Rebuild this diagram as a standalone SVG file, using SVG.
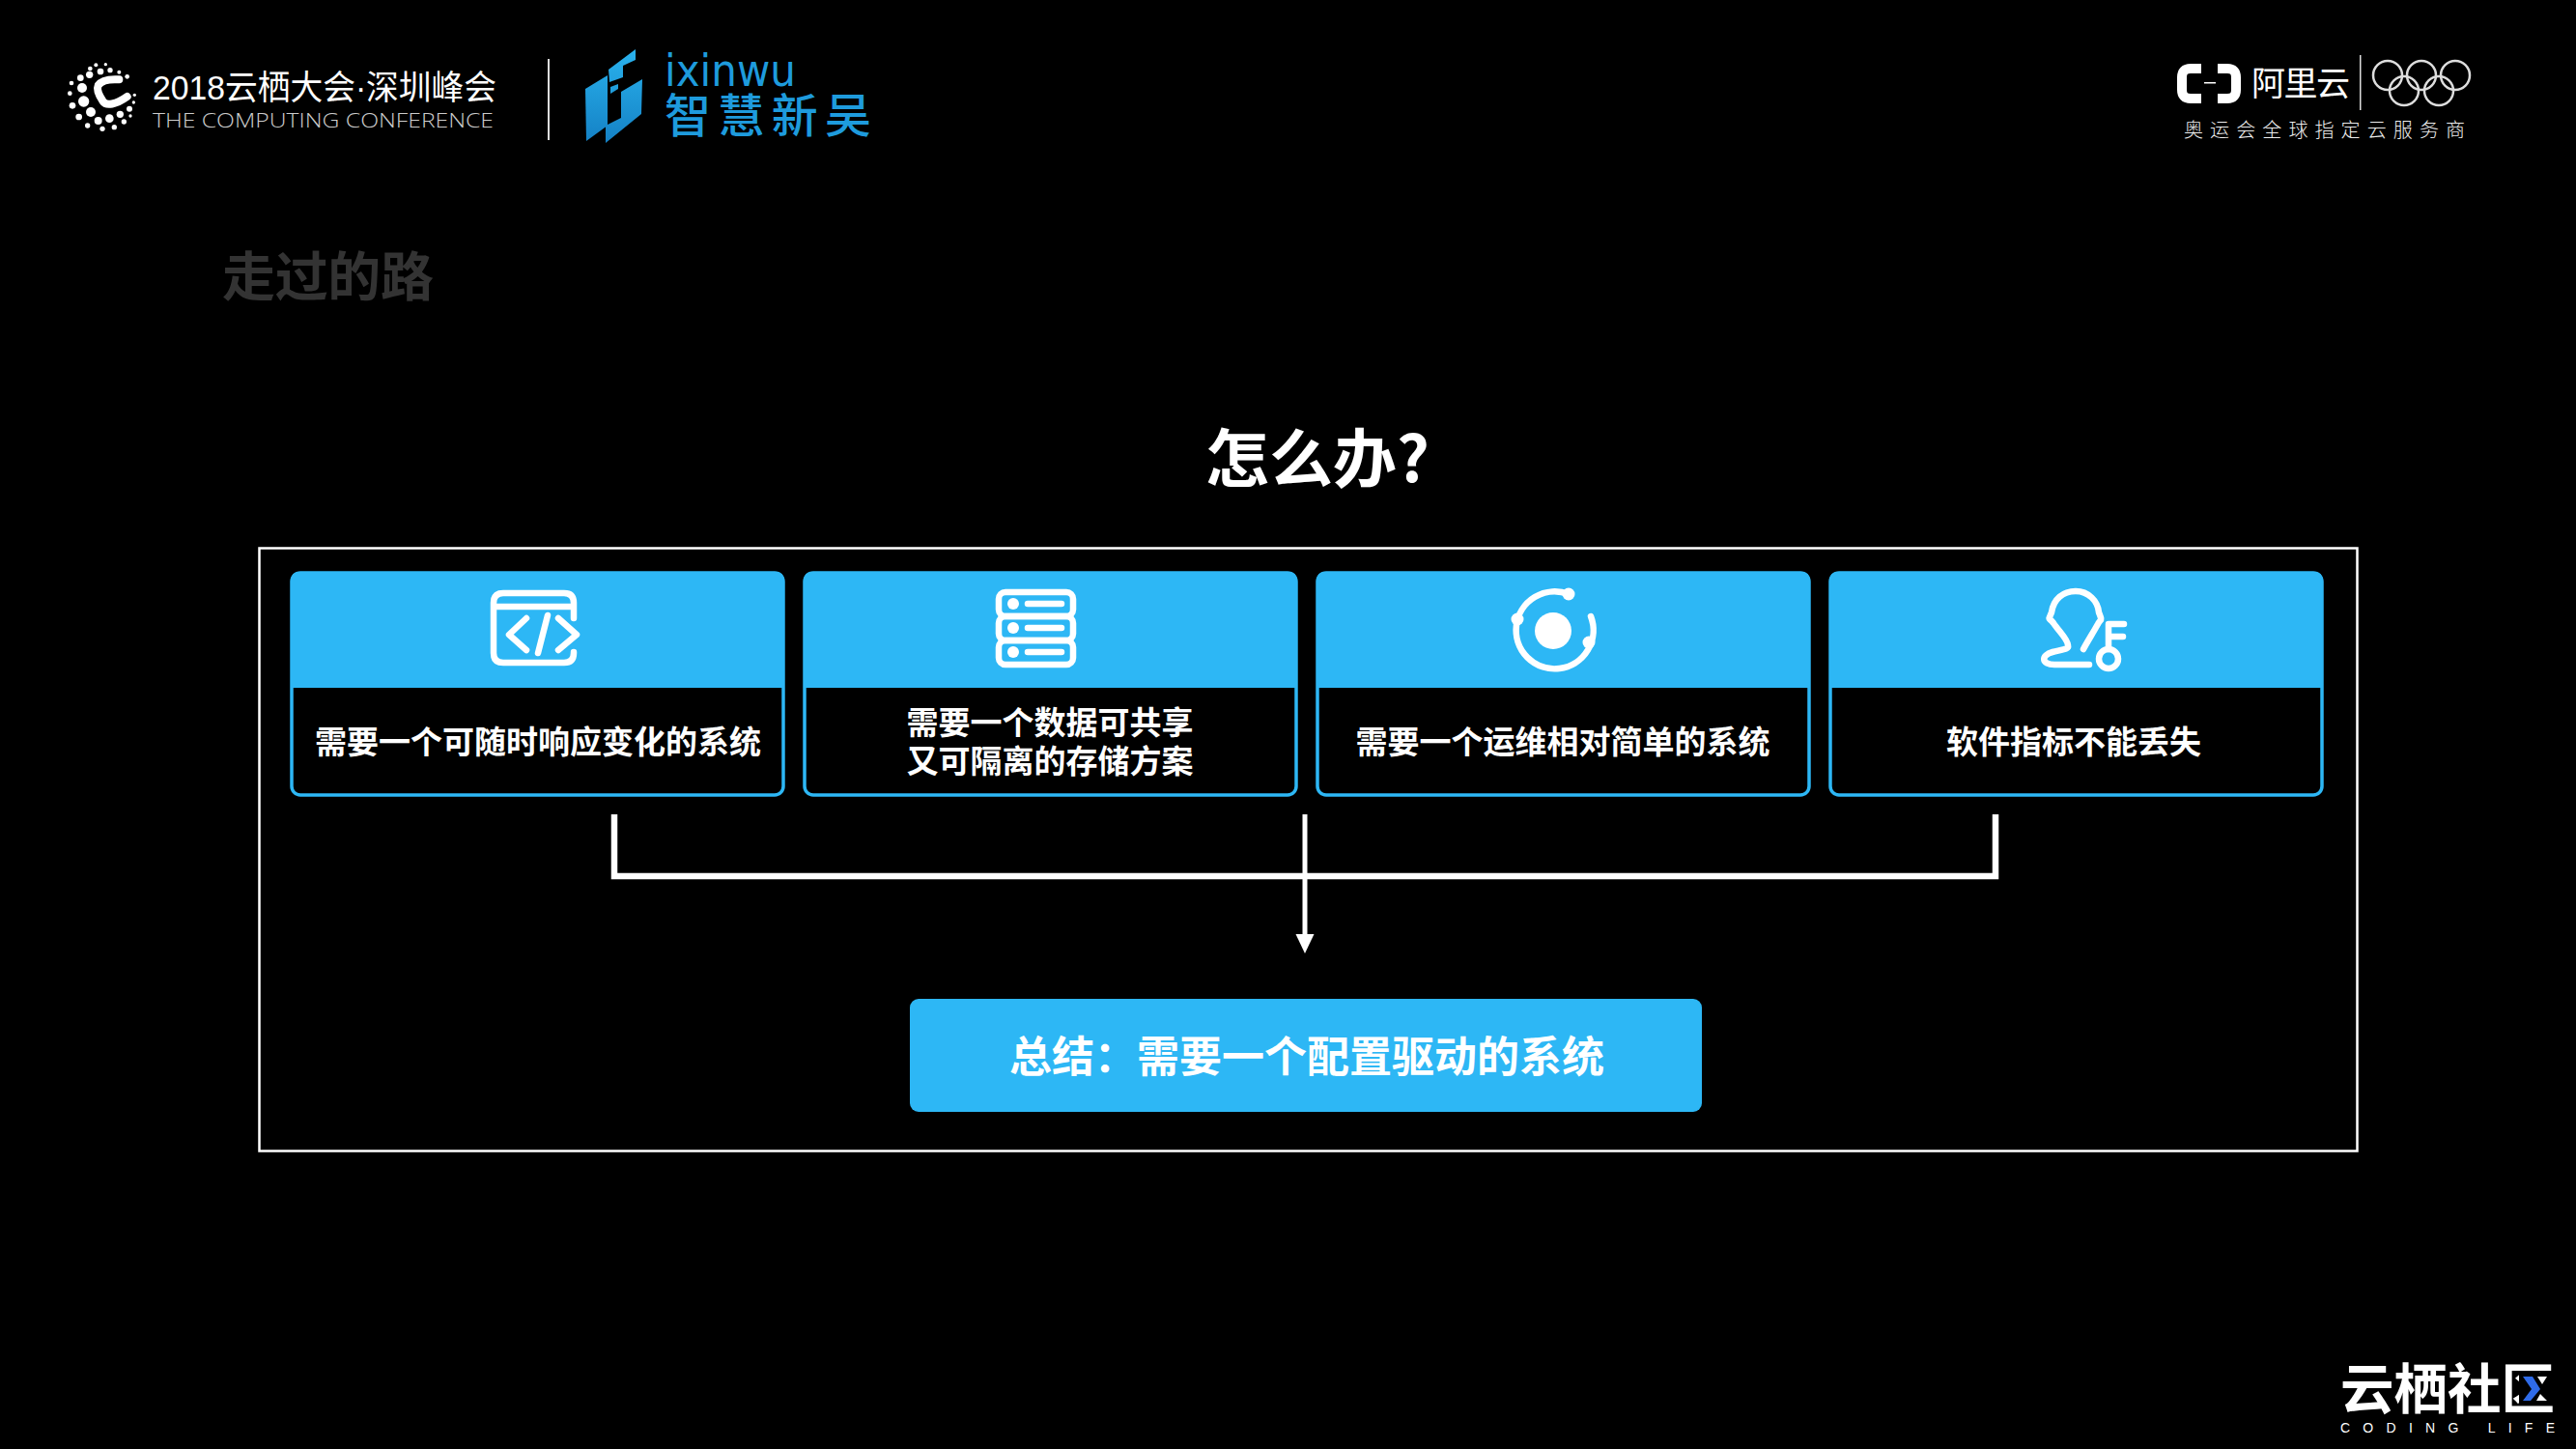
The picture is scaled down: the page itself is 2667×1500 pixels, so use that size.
<svg xmlns="http://www.w3.org/2000/svg" width="2667" height="1500" viewBox="0 0 2667 1500">
<style>
text{font-family:"Noto Sans CJK SC","Noto Sans",sans-serif;fill:#fff}
.card{font-size:33px;font-weight:700;text-anchor:middle}
.frame{fill:#000;stroke:#2DB7F5;stroke-width:3.500}
.head{fill:#2DB7F5}
.ico{fill:none;stroke:#fff;stroke-width:6.500;stroke-linecap:round;stroke-linejoin:round}
.dot{fill:#fff}
</style>
<defs>
<linearGradient id="lg" gradientUnits="userSpaceOnUse" x1="0" y1="50" x2="0" y2="150"><stop offset="0" stop-color="#2AB3EE"/><stop offset="1" stop-color="#1480C4"/></linearGradient>
<marker id="arrow" markerUnits="userSpaceOnUse" markerWidth="20" markerHeight="20" refX="0" refY="10" orient="auto"><path d="M0 0.500L20 10L0 19.500Z" fill="#fff"/></marker>
</defs>
<rect width="2667" height="1500" fill="#000"/>

<g id="logo-conference">
<g transform="translate(60 50) scale(.33333)" fill="#fff">
<circle cx="118" cy="52" r="6"/><circle cx="148" cy="50" r="5"/><circle cx="100" cy="63" r="7"/><circle cx="132" cy="72" r="10"/><circle cx="162" cy="68" r="8"/><circle cx="190" cy="74" r="6"/><circle cx="215" cy="88" r="7"/><circle cx="98" cy="82" r="11"/><circle cx="70" cy="92" r="10"/><circle cx="75" cy="123" r="15"/><circle cx="42" cy="108" r="7"/><circle cx="37" cy="140" r="7"/><circle cx="80" cy="165" r="17"/><circle cx="45" cy="178" r="10"/><circle cx="102" cy="198" r="15"/><circle cx="65" cy="213" r="10"/><circle cx="125" cy="225" r="12"/><circle cx="160" cy="218" r="13"/><circle cx="193" cy="205" r="11"/><circle cx="222" cy="188" r="9"/><circle cx="238" cy="145" r="5"/><circle cx="235" cy="168" r="5"/><circle cx="92" cy="240" r="8"/><circle cx="138" cy="250" r="8"/><circle cx="175" cy="245" r="8"/><circle cx="205" cy="228" r="8"/><circle cx="225" cy="210" r="5"/>
<path d="M190 97C160 95 135 100 125 115C118 130 130 150 140 165C150 180 180 175 215 150" fill="none" stroke="#fff" stroke-width="24" stroke-linecap="round"/>
</g>
<text x="158" y="103" style="font-family:'Liberation Sans','Noto Sans CJK SC',sans-serif;font-size:35px" textLength="356" lengthAdjust="spacingAndGlyphs">2018云栖大会·深圳峰会</text>
<text x="158" y="132" style="font-family:'Open Sans','Liberation Sans',sans-serif;font-size:20px;font-weight:300;fill:#ccc" textLength="353" lengthAdjust="spacingAndGlyphs">THE COMPUTING CONFERENCE</text>
<rect x="567" y="61" width="2" height="84" fill="#ddd"/>
</g>

<g id="logo-ixinwu">
<path fill="url(#lg)" d="M606 92L629 78V130L607 146Z"/>
<path fill="url(#lg)" d="M630 72L658 51V62L645 68V80L631 85Z"/>
<path fill="url(#lg)" d="M632 90L640 87V92L632 97Z"/>
<path fill="url(#lg)" d="M643 95L665 82L664 118L627 148V130L643 122Z"/>
<text x="688" y="89" style="font-family:'DejaVu Sans',sans-serif;font-size:46px;fill:#1E9BDD" textLength="136" lengthAdjust="spacingAndGlyphs">ixinwu</text>
<text x="688" y="137" font-size="48" style="fill:#1E9BDD" font-weight="500" textLength="214">智慧新吴</text>
</g>

<g id="logo-aliyun">
<path d="M2279 71H2268Q2259 71 2259 80V93Q2259 102 2268 102H2279" fill="none" stroke="#fff" stroke-width="10"/>
<path d="M2296 71H2306Q2315 71 2315 80V93Q2315 102 2306 102H2296" fill="none" stroke="#fff" stroke-width="10"/>
<rect x="2282" y="85" width="12" height="1.500" fill="#fff"/>
<text x="2331" y="99" font-size="35" font-weight="400" textLength="102">阿里云</text>
<rect x="2443" y="57" width="1.500" height="57" fill="#ddd"/>
<g fill="none" stroke="#ddd" stroke-width="2.500"><circle cx="2472" cy="78" r="15"/><circle cx="2507" cy="78" r="15"/><circle cx="2542" cy="78" r="15"/><circle cx="2489" cy="94" r="15"/><circle cx="2525" cy="94" r="15"/></g>
<text x="2261" y="142" font-size="20" font-weight="300" textLength="291" style="fill:#eee">奥运会全球指定云服务商</text>
</g>

<text id="page-title" x="230" y="306" font-size="55" font-weight="700" style="fill:#333" textLength="219">走过的路</text>
<text id="question" x="1364" y="499" font-size="66" font-weight="700" text-anchor="middle">怎么办?</text>

<rect id="outer-box" x="268.500" y="567.500" width="2172" height="624" fill="none" stroke="#fff" stroke-width="2.500"/>

<g id="card-1">
<rect class="frame" x="302" y="593" width="509" height="230" rx="9"/>
<path class="head" d="M301 712V601Q301 592 310 592H803Q812 592 812 601V712Z"/>
<path class="ico" d="M594 640V624Q594 614 584 614H521Q511 614 511 624V676Q511 686 521 686H584Q594 686 594 676V675M511 628H594"/>
<path class="ico" d="M545 640L527 657L545 673M578 640L597 657L578 673M567 637L557 676"/>
<text class="card" x="557" y="780">需要一个可随时响应变化的系统</text>
</g>

<g id="card-2">
<rect class="frame" x="833" y="593" width="509" height="230" rx="9"/>
<path class="head" d="M832 712V601Q832 592 841 592H1334Q1343 592 1343 601V712Z"/>
<g class="ico"><rect x="1034" y="613" width="77" height="25" rx="7"/><rect x="1034" y="638" width="77" height="25" rx="7"/><rect x="1034" y="663" width="77" height="25" rx="7"/><path d="M1064 625H1099M1064 650H1099M1064 675H1099"/></g>
<circle class="dot" cx="1049" cy="625" r="6"/><circle class="dot" cx="1049" cy="650" r="6"/><circle class="dot" cx="1049" cy="675" r="6"/>
<text class="card" x="1087" y="760">需要一个数据可共享</text>
<text class="card" x="1087" y="800">又可隔离的存储方案</text>
</g>

<g id="card-3">
<rect class="frame" x="1364" y="593" width="509" height="230" rx="9"/>
<path class="head" d="M1363 712V601Q1363 592 1372 592H1865Q1874 592 1874 601V712Z"/>
<circle class="dot" cx="1608" cy="653" r="19"/>
<path class="ico" d="M1624 615A40 40 0 1 0 1647 638"/>
<circle class="dot" cx="1624" cy="615" r="6.500"/><circle class="dot" cx="1571" cy="641" r="6.500"/><circle class="dot" cx="1645" cy="665" r="6.500"/>
<text class="card" x="1618" y="780">需要一个运维相对简单的系统</text>
</g>

<g id="card-4">
<rect class="frame" x="1895" y="593" width="509" height="230" rx="9"/>
<path class="head" d="M1894 712V601Q1894 592 1903 592H2396Q2405 592 2405 601V712Z"/>
<path class="ico" d="M2163 688H2127C2113 688 2113 678 2125 675C2138 672 2142 672 2141 668C2141 662 2132 654 2126 645C2121 638 2120 644 2124 634C2126 620 2136 612 2149 612C2162 612 2172 622 2173 634C2177 644 2175 640 2172 646C2167 655 2160 666 2157 672"/>
<circle class="ico" cx="2183" cy="682" r="10"/>
<path class="ico" d="M2183 672V646H2199M2183 659H2198"/>
<text class="card" x="2147" y="780">软件指标不能丢失</text>
</g>

<g id="connectors" fill="none" stroke="#fff">
<path d="M636 843V907H2066V843" stroke-width="6.500"/>
<path d="M1351 843V967" stroke-width="5" marker-end="url(#arrow)"/>
</g>

<g id="summary">
<rect x="942" y="1034" width="820" height="117" rx="9" fill="#2DB7F5"/>
<text x="1353" y="1110" font-size="44" font-weight="700" text-anchor="middle">总结：需要一个配置驱动的系统</text>
</g>

<g id="logo-community">
<text x="2423" y="1458" font-size="56" font-weight="700" textLength="222" lengthAdjust="spacingAndGlyphs">云栖社区</text>
<rect x="2608" y="1421" width="34" height="33" fill="#000"/>
<path d="M2612 1425H2622L2630 1438L2620 1450H2612L2621 1438Z" fill="#2F6BE8"/>
<path d="M2627 1425H2637L2632 1433ZM2630 1443L2637 1450H2626Z" fill="#fff"/>
<text x="2423" y="1483" style="font-family:'Liberation Sans',sans-serif;font-size:14px" textLength="222">CODING  LIFE</text>
</g>
</svg>
